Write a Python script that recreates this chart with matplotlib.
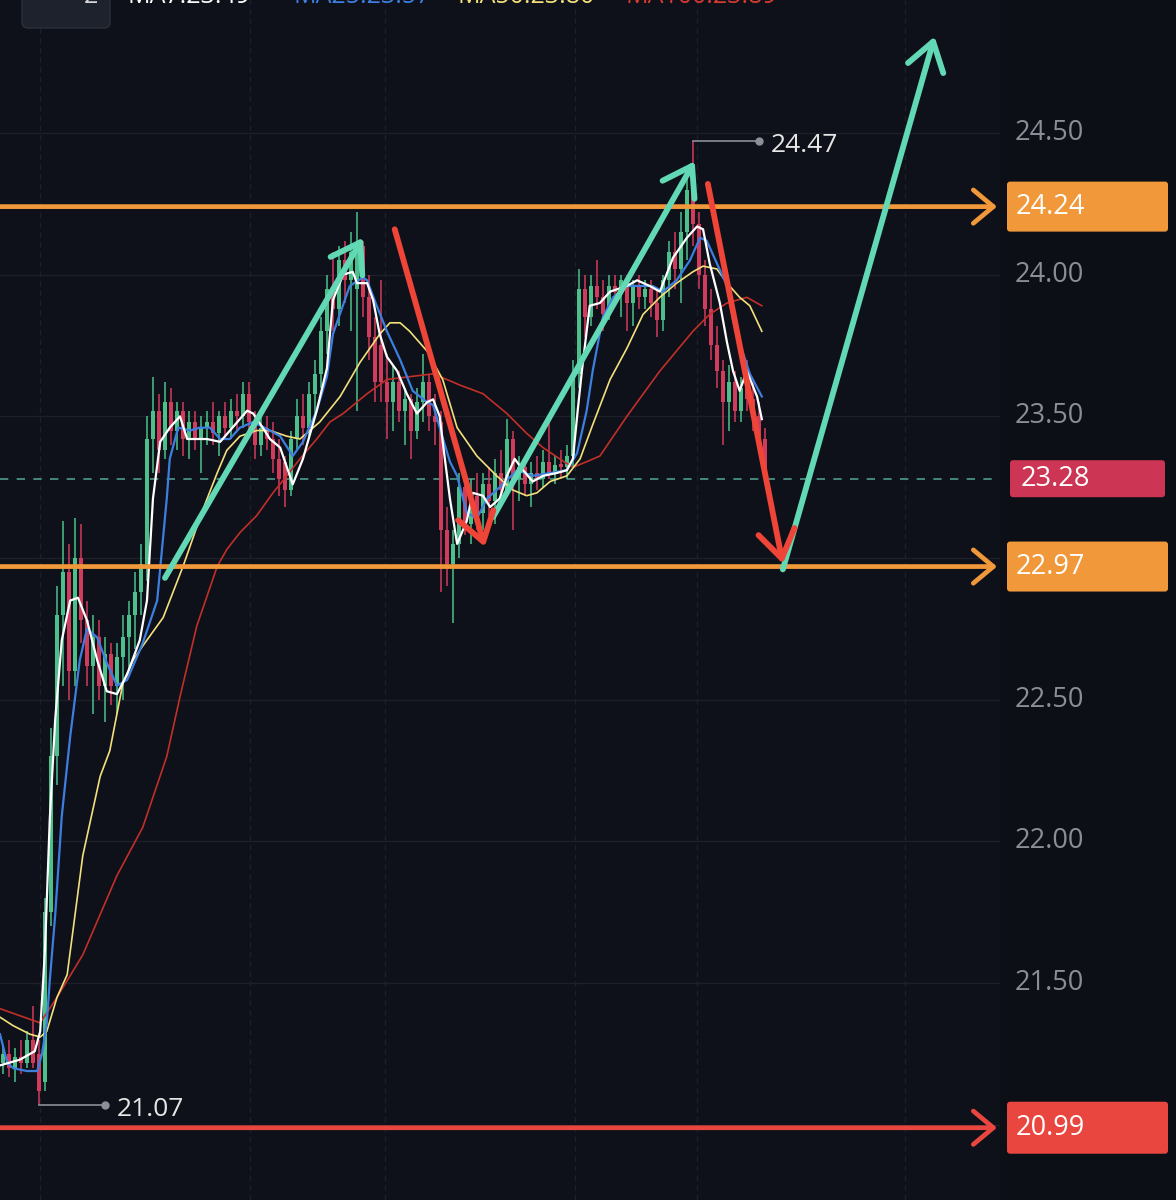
import matplotlib.pyplot as plt
from matplotlib.patches import FancyArrowPatch, FancyBboxPatch

#Candles, one per bar (open, high, low, close)
opens = [21.22, 21.25, 21.20, 21.24, 21.22, 21.30, 21.25, 21.15, 21.75, 22.30,
         22.80, 22.95, 22.60, 23.00, 22.78, 22.62, 22.72, 22.55, 22.66, 22.55,
         22.65, 22.72, 22.80, 22.88, 22.98, 23.42, 23.52, 23.38, 23.55, 23.45,
         23.52, 23.42, 23.48, 23.42, 23.46, 23.48, 23.44, 23.50, 23.46, 23.52,
         23.50, 23.58, 23.48, 23.40, 23.46, 23.42, 23.35, 23.34, 23.24, 23.42,
         23.50, 23.46, 23.58, 23.65, 23.80, 23.95, 23.88, 24.05, 23.98, 23.95,
         24.10, 23.92, 23.78, 23.75, 23.62, 23.55, 23.62, 23.52, 23.56, 23.45,
         23.55, 23.62, 23.50, 23.48, 23.10, 22.98, 23.05, 23.25, 23.12, 23.22,
         23.16, 23.26, 23.20, 23.30, 23.24, 23.42, 23.28, 23.32, 23.26, 23.30,
         23.28, 23.34, 23.30, 23.33, 23.32, 23.36, 23.65, 23.95, 23.85, 23.96,
         23.92, 23.86, 23.96, 23.94, 23.98, 23.90, 23.96, 23.92, 23.95, 23.90,
         23.84, 23.98, 24.08, 24.02, 24.15, 24.30, 24.18, 24.00, 23.88, 23.75,
         23.66, 23.55, 23.62, 23.52, 23.60, 23.56, 23.50, 23.42]
highs = [21.28, 21.30, 21.27, 21.30, 21.33, 21.42, 21.30, 21.80, 22.40, 22.90,
         23.13, 23.05, 23.14, 23.12, 22.85, 22.80, 22.78, 22.72, 22.70, 22.70,
         22.80, 22.85, 22.95, 23.05, 23.50, 23.64, 23.58, 23.62, 23.60, 23.55,
         23.55, 23.52, 23.52, 23.50, 23.52, 23.55, 23.52, 23.55, 23.56, 23.58,
         23.62, 23.62, 23.52, 23.50, 23.50, 23.48, 23.42, 23.36, 23.45, 23.56,
         23.58, 23.62, 23.70, 23.85, 24.00, 24.08, 24.10, 24.12, 24.15, 24.22,
         24.12, 24.00, 23.85, 23.98, 23.72, 23.68, 23.66, 23.60, 23.58, 23.60,
         23.72, 23.65, 23.58, 23.52, 23.18, 23.10, 23.30, 23.30, 23.28, 23.30,
         23.30, 23.32, 23.35, 23.38, 23.49, 23.45, 23.36, 23.36, 23.34, 23.36,
         23.38, 23.49, 23.36, 23.38, 23.40, 23.70, 24.02, 24.00, 24.00, 24.05,
         23.98, 24.00, 24.00, 24.00, 24.00, 23.98, 24.00, 23.98, 23.98, 23.95,
         24.00, 24.12, 24.15, 24.22, 24.35, 24.47, 24.22, 24.05, 23.95, 23.82,
         23.70, 23.68, 23.66, 23.64, 23.70, 23.62, 23.55, 23.46]
lows = [21.18, 21.17, 21.15, 21.18, 21.20, 21.20, 21.07, 21.12, 21.70, 22.20,
        22.55, 22.50, 22.55, 22.70, 22.55, 22.45, 22.50, 22.42, 22.48, 22.45,
        22.50, 22.60, 22.68, 22.80, 22.92, 23.30, 23.30, 23.35, 23.40, 23.38,
        23.36, 23.35, 23.38, 23.30, 23.40, 23.40, 23.36, 23.42, 23.42, 23.45,
        23.46, 23.44, 23.35, 23.36, 23.38, 23.30, 23.22, 23.18, 23.22, 23.38,
        23.40, 23.42, 23.50, 23.60, 23.72, 23.80, 23.82, 23.90, 23.80, 23.52,
        23.85, 23.70, 23.55, 23.55, 23.42, 23.45, 23.48, 23.40, 23.35, 23.42,
        23.48, 23.45, 23.40, 22.88, 22.90, 22.77, 23.00, 23.08, 23.05, 23.10,
        23.10, 23.15, 23.12, 23.18, 23.22, 23.10, 23.20, 23.22, 23.18, 23.24,
        23.25, 23.28, 23.26, 23.28, 23.28, 23.32, 23.60, 23.78, 23.82, 23.88,
        23.80, 23.84, 23.90, 23.85, 23.80, 23.82, 23.88, 23.88, 23.85, 23.78,
        23.80, 23.92, 23.95, 23.90, 24.05, 24.10, 23.95, 23.82, 23.70, 23.60,
        23.40, 23.45, 23.48, 23.48, 23.52, 23.45, 23.38, 23.26]
closes = [21.25, 21.20, 21.24, 21.22, 21.30, 21.22, 21.12, 21.75, 22.30, 22.80,
          22.95, 22.60, 23.00, 22.78, 22.62, 22.72, 22.55, 22.66, 22.55, 22.65,
          22.72, 22.80, 22.88, 22.98, 23.42, 23.52, 23.38, 23.55, 23.45, 23.52,
          23.42, 23.48, 23.42, 23.46, 23.48, 23.44, 23.50, 23.46, 23.52, 23.50,
          23.58, 23.48, 23.40, 23.46, 23.42, 23.35, 23.28, 23.24, 23.42, 23.50,
          23.46, 23.58, 23.65, 23.80, 23.95, 23.88, 24.05, 23.98, 24.08, 24.10,
          23.92, 23.78, 23.62, 23.62, 23.55, 23.62, 23.52, 23.56, 23.45, 23.55,
          23.62, 23.50, 23.48, 23.10, 22.98, 23.05, 23.25, 23.12, 23.22, 23.16,
          23.26, 23.20, 23.30, 23.24, 23.42, 23.28, 23.32, 23.26, 23.30, 23.28,
          23.34, 23.30, 23.33, 23.32, 23.36, 23.65, 23.95, 23.85, 23.96, 23.92,
          23.86, 23.96, 23.94, 23.98, 23.90, 23.96, 23.92, 23.95, 23.90, 23.84,
          23.98, 24.08, 24.02, 24.15, 24.30, 24.18, 24.00, 23.88, 23.75, 23.66,
          23.55, 23.62, 23.52, 23.60, 23.56, 23.50, 23.42, 23.28]

#Moving averages as shown on the chart (bar index, price)
ma7 = [(-0.5, 21.21), (2.8, 21.23), (5.3, 21.26), (6.2, 21.33), (7.0, 21.62), (7.8, 22.08),
       (8.7, 22.43), (9.8, 22.71), (11.2, 22.85), (12.5, 22.86), (14.0, 22.78), (15.7, 22.64),
       (17.3, 22.53), (19.0, 22.52), (20.7, 22.59), (22.8, 22.71), (24.0, 22.85), (25.0, 23.21),
       (26.2, 23.41), (27.8, 23.46), (29.5, 23.50), (30.7, 23.42), (34.0, 23.42), (36.2, 23.41),
       (40.7, 23.52), (41.7, 23.51), (43.3, 23.46), (44.5, 23.42), (46.2, 23.39), (48.3, 23.26),
       (50.0, 23.35), (52.3, 23.52), (54.0, 23.67), (55.0, 23.91), (56.7, 24.00), (58.3, 24.01),
       (59.0, 23.97), (60.7, 23.97), (61.7, 23.91), (62.8, 23.79), (64.0, 23.71), (65.7, 23.66),
       (67.3, 23.58), (69.0, 23.51), (70.7, 23.55), (71.7, 23.56), (72.8, 23.50), (73.3, 23.41),
       (74.5, 23.21), (75.7, 23.05), (77.3, 23.13), (78.3, 23.23), (80.0, 23.22), (81.2, 23.18),
       (82.8, 23.21), (84.0, 23.29), (85.3, 23.35), (86.7, 23.31), (88.3, 23.27), (90.0, 23.29),
       (92.3, 23.30), (94.0, 23.31), (95.0, 23.35), (95.8, 23.52), (96.5, 23.66), (97.8, 23.89),
       (99.5, 23.90), (101.2, 23.94), (104.0, 23.96), (105.7, 23.98), (107.8, 23.96), (109.5, 23.94),
       (111.7, 24.06), (114.0, 24.13), (115.7, 24.17), (116.7, 24.16), (117.8, 24.04), (119.5, 23.90),
       (120.7, 23.76), (121.7, 23.66), (122.8, 23.59), (124.0, 23.66), (125.7, 23.57), (126.5, 23.49)]
ma25 = [(-0.5, 21.32), (0.7, 21.22), (1.7, 21.20), (4.0, 21.19), (5.7, 21.19), (6.5, 21.25),
        (7.3, 21.36), (7.8, 21.51), (8.7, 21.74), (9.8, 22.09), (11.2, 22.37), (12.8, 22.64),
        (14.0, 22.75), (15.7, 22.72), (17.3, 22.63), (19.0, 22.55), (20.7, 22.57), (21.7, 22.62),
        (23.3, 22.70), (25.7, 22.85), (27.3, 23.21), (27.8, 23.35), (29.2, 23.46), (31.2, 23.45),
        (32.8, 23.46), (34.5, 23.46), (36.2, 23.42), (37.8, 23.42), (39.5, 23.46), (41.7, 23.48),
        (44.5, 23.45), (46.2, 23.43), (48.3, 23.36), (50.0, 23.41), (52.3, 23.52), (54.0, 23.64),
        (55.0, 23.79), (57.8, 23.96), (60.0, 23.99), (60.7, 23.98), (62.3, 23.89), (64.0, 23.80),
        (66.2, 23.70), (68.3, 23.59), (70.7, 23.55), (71.7, 23.54), (72.8, 23.46), (74.5, 23.34),
        (75.7, 23.29), (77.3, 23.16), (79.0, 23.14), (80.7, 23.21), (82.8, 23.25), (85.7, 23.31),
        (88.3, 23.29), (91.2, 23.30), (94.0, 23.31), (95.7, 23.37), (97.3, 23.52), (98.3, 23.66),
        (100.0, 23.85), (101.7, 23.92), (104.0, 23.96), (106.2, 23.96), (108.3, 23.96), (110.0, 23.94),
        (112.3, 23.98), (114.5, 24.05), (116.2, 24.13), (117.3, 24.12), (119.0, 24.04), (120.7, 23.96),
        (121.7, 23.84), (122.8, 23.76), (124.5, 23.65), (126.5, 23.57)]
ma50 = [(-0.5, 21.38), (1.7, 21.35), (4.5, 21.32), (6.2, 21.31), (7.3, 21.33), (9.0, 21.45),
        (10.7, 21.53), (13.3, 21.95), (16.2, 22.23), (17.8, 22.32), (20.0, 22.56), (21.7, 22.64),
        (23.3, 22.69), (26.7, 22.79), (30.0, 22.97), (33.3, 23.17), (35.7, 23.30), (37.3, 23.38),
        (39.5, 23.43), (42.3, 23.45), (44.5, 23.45), (47.3, 23.43), (49.5, 23.42), (52.8, 23.48),
        (56.2, 23.57), (59.5, 23.69), (62.8, 23.79), (64.5, 23.83), (66.2, 23.83), (67.8, 23.80),
        (70.7, 23.73), (73.3, 23.63), (75.7, 23.46), (79.0, 23.36), (82.3, 23.29), (85.0, 23.24),
        (87.3, 23.22), (89.0, 23.23), (91.2, 23.27), (94.0, 23.29), (96.2, 23.35), (98.3, 23.47),
        (101.2, 23.63), (104.0, 23.74), (106.7, 23.86), (109.5, 23.92), (112.3, 23.97), (115.0, 24.01),
        (116.7, 24.03), (119.0, 24.02), (120.7, 23.97), (122.8, 23.92), (124.5, 23.89), (126.5, 23.80)]
ma100 = [(-0.5, 21.41), (6.2, 21.36), (9.0, 21.45), (13.3, 21.60), (19.0, 21.88), (23.3, 22.05),
         (27.3, 22.30), (29.5, 22.51), (32.3, 22.76), (35.7, 22.97), (37.3, 23.03), (39.5, 23.09),
         (42.3, 23.15), (45.0, 23.23), (47.3, 23.29), (49.5, 23.35), (52.3, 23.42), (54.5, 23.48),
         (56.7, 23.51), (60.7, 23.58), (64.0, 23.63), (67.8, 23.64), (71.7, 23.65), (74.0, 23.63),
         (76.2, 23.61), (80.0, 23.58), (84.0, 23.51), (87.3, 23.44), (90.0, 23.39), (92.8, 23.35),
         (95.0, 23.32), (97.3, 23.34), (99.5, 23.36), (104.0, 23.50), (109.5, 23.66), (115.0, 23.80),
         (117.8, 23.86), (120.7, 23.90), (124.0, 23.92), (126.5, 23.89)]

#Drawn levels and trend arrows (bar index, price)
resistance = 24.24
support = 22.97
stop_level = 20.99
up_arrows = [((27.0, 22.93), (60.0, 24.13)),
             ((81.7, 23.145), (115.3, 24.40)),
             ((130.0, 22.96), (155.3, 24.84))]
down_arrows = [((65.3, 24.16), (80.3, 23.04)),
               ((117.5, 24.32), (130.0, 22.98))]

price_ticks = [25.0, 24.5, 24.0, 23.5, 23.0, 22.5, 22.0, 21.5, 21.0]
time_grid = [6.2, 41.2, 63.7, 95.3, 115.7, 150.3]

BG = '#0e1119'
GREEN = '#4cc08a'
RED = '#d23c5c'
ORANGE = '#f0983a'
MINT = '#62d9b4'
ARROW_RED = '#ee4538'
YMIN, YMAX = 20.735, 24.969
XMIN, XMAX = -0.5, 166.2
W, H = 1176, 1200
PLOT_W = 1000


def draw_candles(ax):
    idx = list(range(len(closes)))
    colors = [GREEN if c >= o else RED for o, c in zip(opens, closes)]
    ax.vlines(idx, lows, highs, colors=colors, linewidth=1.1, zorder=2)
    bodies = [max(abs(c - o), 0.012) for o, c in zip(opens, closes)]
    bottoms = [min(o, c) for o, c in zip(opens, closes)]
    ax.bar(idx, bodies, bottom=bottoms, width=0.68, color=colors, linewidth=0, zorder=2)


def draw_mas(ax):
    #Moving average lines
    for pts, col, lw in [(ma100, '#c22f29', 1.2), (ma50, '#f3e07c', 1.2),
                         (ma25, '#3d7fe0', 1.6), (ma7, '#ffffff', 1.6)]:
        xs = [p[0] for p in pts]
        ys = [p[1] for p in pts]
        ax.plot(xs, ys, color=col, lw=lw, zorder=3, solid_joinstyle='round')


def draw_levels(ax):
    #Horizontal levels with arrow heads at the right edge
    for lvl, col in [(resistance, ORANGE), (support, ORANGE), (stop_level, '#e8463f')]:
        arr = FancyArrowPatch((XMIN, lvl), (165.7, lvl),
                              arrowstyle='->,head_length=0.9,head_width=0.75',
                              mutation_scale=16, color=col, lw=3.4,
                              shrinkA=0, shrinkB=0, zorder=5)
        ax.add_patch(arr)

    #Last price dashed line
    ax.axhline(closes[-1], color='#4d9c8a', lw=1.2, dashes=(5, 5), zorder=1)


def draw_arrows(ax):
    for arrows, col in [(up_arrows, MINT), (down_arrows, ARROW_RED)]:
        for start, end in arrows:
            arr = FancyArrowPatch(start, end,
                                  arrowstyle='->,head_length=0.9,head_width=0.6',
                                  mutation_scale=22, color=col, lw=4.2,
                                  shrinkA=0, shrinkB=0, zorder=6)
            ax.add_patch(arr)


def draw_extremes(ax):
    #High and low markers
    hi = highs.index(max(highs))
    lo = lows.index(min(lows))
    for i, val in [(hi, highs[hi]), (lo, lows[lo])]:
        ax.plot([i, i + 11], [val, val], color='#8c8f99', lw=1.2, zorder=4)
        ax.plot(i + 11, val, 'o', color='#8c8f99', ms=5, zorder=4)
        ax.text(i + 13, val - 0.015, f'{val:.2f}', va='center', ha='left',
                fontsize=19, color='#e6e6e6', zorder=4)


def draw_price_axis(fig):
    pax = fig.add_axes([PLOT_W / W, 0, (W - PLOT_W) / W, 1])
    pax.set_facecolor('#0c0f16')
    pax.set_xlim(0, W - PLOT_W)
    pax.set_ylim(YMIN, YMAX)
    pax.set_xticks([])
    pax.set_yticks([])
    for s in pax.spines.values():
        s.set_visible(False)

    marked = [resistance, support, closes[-1], stop_level]
    for t in price_ticks:
        #Ticks hidden behind a level label are not shown
        if min(abs(t - m) for m in marked) < 0.08:
            continue
        pax.text(15, t, f'{t:.2f}', va='center', ha='left', fontsize=19.5,
                 color='#8b8e97', zorder=1)

    unit = (YMAX - YMIN) / H
    for lvl, col, x0, bw, bh, tx in [(resistance, ORANGE, 7, 161, 50, 16),
                                     (support, ORANGE, 7, 161, 50, 16),
                                     (closes[-1], '#cc3553', 10, 155, 37, 21),
                                     (stop_level, '#e8463f', 7, 161, 52, 16)]:
        box = FancyBboxPatch((x0, lvl - bh * unit / 2), bw, bh * unit,
                             boxstyle='round,pad=0,rounding_size=3',
                             mutation_aspect=unit, facecolor=col,
                             edgecolor='none', zorder=3)
        pax.add_patch(box)
        pax.text(tx, lvl, f'{lvl:.2f}', va='center', ha='left', fontsize=19.5,
                 color='#ffffff', zorder=4)


def draw_header(fig):
    #Legend row, cut off by the top edge
    box = FancyBboxPatch((22 / W, 1 - 28 / H), 88 / W, 60 / H,
                         boxstyle='round,pad=0,rounding_size=0.005',
                         mutation_aspect=W / H, transform=fig.transFigure,
                         facecolor='#1e222d', edgecolor='#2b2f3a', lw=1)
    fig.add_artist(box)
    fig.text(84 / W, 1 - 3 / H, '2', fontsize=18, color='#d8d8d8', va='baseline')
    for x, name, pts, col in [(127, 'MA7', ma7, '#ffffff'), (293, 'MA25', ma25, '#3d7fe0'),
                              (457, 'MA50', ma50, '#f3e07c'), (625, 'MA100', ma100, '#d83a30')]:
        fig.text(x / W, 1 - 3 / H, f'{name}:{pts[-1][1]:.2f}', fontsize=18,
                 color=col, va='baseline', ha='left')


def main():
    plt.rcParams['font.family'] = ['Open Sans', 'DejaVu Sans']
    fig = plt.figure(figsize=(W / 100, H / 100), dpi=100)
    fig.patch.set_facecolor(BG)

    ax = fig.add_axes([0, 0, PLOT_W / W, 1])
    ax.set_facecolor(BG)
    ax.set_xlim(XMIN, XMAX)
    ax.set_ylim(YMIN, YMAX)
    ax.set_xticks([])
    ax.set_yticks([])
    for s in ax.spines.values():
        s.set_visible(False)

    #Grid
    for t in price_ticks:
        ax.axhline(t, color='#1d2029', lw=1, zorder=0)
    for t in time_grid:
        ax.axvline(t, color='#1d2029', lw=1, dashes=(4, 3), zorder=0)

    draw_candles(ax)
    draw_mas(ax)
    draw_levels(ax)
    draw_arrows(ax)
    draw_extremes(ax)
    draw_price_axis(fig)
    draw_header(fig)

    fig.savefig('out.png', dpi=100, facecolor=BG)


if __name__ == "__main__":
    main()
